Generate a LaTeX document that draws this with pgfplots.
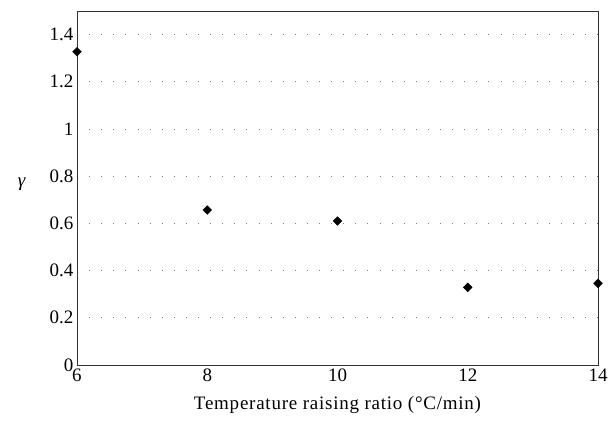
\documentclass[border=0pt]{standalone}
\usepackage{fontspec}
\setmainfont{Liberation Serif}
\usepackage{pgfplots}
\pgfplotsset{compat=1.18}
\begin{document}
\begin{tikzpicture}
\begin{axis}[
    scale only axis,
    width=521pt, height=354pt,
    xmin=6, xmax=14, ymin=0, ymax=1.5,
    xtick={6,8,10,12,14},
    ytick={0,0.2,0.4,0.6,0.8,1,1.2,1.4},
    /pgf/number format/assume math mode=true,
    tick style={draw=none},
    ymajorgrids,
    grid style={gray, line width=0.9pt, dash pattern=on 0.9pt off 11.2pt},
    axis line style={black!80, line width=0.9pt},
    tick label style={font=\fontsize{19}{21}\selectfont},
    label style={font=\fontsize{19}{21}\selectfont\addfontfeature{LetterSpace=4}},
    xlabel={Temperature raising ratio (°C/min)},
    ylabel={\textit{γ}},
    ylabel style={rotate=-90, at={(rel axis cs:-0.105,0.51)}, anchor=center},
    xlabel style={at={(rel axis cs:0.5,-0.113)}, anchor=center},
    clip=false,
]
\addplot[only marks, mark=square*, mark options={rotate=45}, mark size=3.1pt, black] coordinates {
    (6,1.327) (8,0.657) (10,0.61) (12,0.329) (14,0.346)
};
\path (rel axis cs:0,0) ++(-77pt,-60pt);
\path (rel axis cs:1,1) ++(15pt,11pt);
\end{axis}
\end{tikzpicture}
\end{document}
